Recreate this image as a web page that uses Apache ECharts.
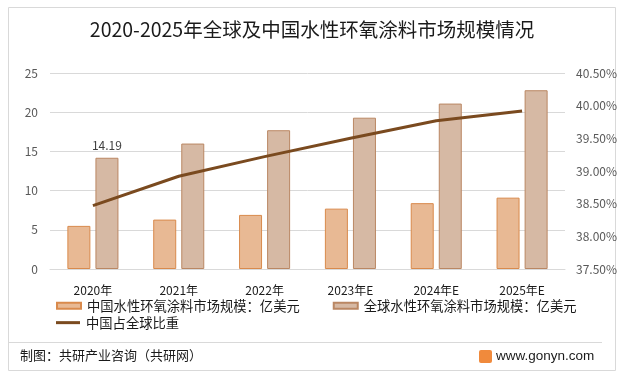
<!DOCTYPE html>
<html><head><meta charset="utf-8">
<script src="https://cdn.jsdelivr.net/npm/echarts@6/dist/echarts.min.js"></script>
<style>html,body{margin:0;padding:0;background:#fff}#c{width:624px;height:380px}</style>
</head><body><div id="c"></div>
<script>
const categories = ['2020年','2021年','2022年','2023年E','2024年E','2025年E'];
const chinaMarket = [5.5, 6.3, 6.9, 7.7, 8.4, 9.1];
const globalMarket = [14.19, 16.0, 17.7, 19.3, 21.1, 22.8];
const chinaShare = [38.47, 38.92, 39.22, 39.50, 39.77, 39.92];
const leftTicks = {min: 0, max: 25, interval: 5};
const rightTicks = {min: 37.5, max: 40.5, interval: 0.5};
const names = ['中国水性环氧涂料市场规模：亿美元','全球水性环氧涂料市场规模：亿美元','中国占全球比重'];

const font = '"Noto Sans CJK SC","Microsoft YaHei",sans-serif';
const chart = echarts.init(document.getElementById('c'));
chart.setOption({
  animation: false,
  textStyle: {fontFamily: font},
  title: {text: '2020-2025年全球及中国水性环氧涂料市场规模情况', left: 'center', top: 15,
    textStyle: {fontSize: 19.5, fontWeight: 'normal', color: '#1a1a1a', fontFamily: font}},
  grid: {left: 50, right: 59, top: 73, bottom: 111, containLabel: false},
  legend: [
    {data: [{name: names[0], icon: 'rect'}, {name: names[1], icon: 'rect'}], left: 51, top: 294,
      padding: 5, itemWidth: 24, itemHeight: 6, itemGap: 33,
      textStyle: {fontSize: 13.3, color: '#1a1a1a', padding: [0, 0, 0, 1]}},
    {data: [{name: names[2], icon: 'rect'}], left: 51, top: 311, padding: 5, itemWidth: 24, itemHeight: 3,
      textStyle: {fontSize: 13.3, color: '#1a1a1a', padding: [0, 0, 0, 1]}}
  ],
  xAxis: {type: 'category', data: categories,
    axisLine: {lineStyle: {color: '#d9d9d9'}}, axisTick: {show: false},
    axisLabel: {color: '#1a1a1a', fontSize: 12, margin: 15}},
  yAxis: [
    {type: 'value', min: leftTicks.min, max: leftTicks.max, interval: leftTicks.interval,
      axisLabel: {color: '#595959', fontSize: 12, margin: 12},
      splitLine: {lineStyle: {color: '#d9d9d9'}}, axisLine: {show: false}, axisTick: {show: false}},
    {type: 'value', min: rightTicks.min, max: rightTicks.max, interval: rightTicks.interval,
      axisLabel: {color: '#595959', fontSize: 12, margin: 11, formatter: v => v.toFixed(2) + '%'},
      splitLine: {show: false}, axisLine: {show: false}, axisTick: {show: false}}
  ],
  series: [
    {name: names[0], type: 'bar', data: chinaMarket, barWidth: 23, barGap: '22%',
      itemStyle: {color: '#E8B994', borderColor: '#D98A4C', borderWidth: 1}},
    {name: names[1], type: 'bar', data: globalMarket, barWidth: 23,
      itemStyle: {color: '#D6B9A4', borderColor: '#BA8763', borderWidth: 1},
      label: {show: true, position: 'top', color: '#404040', fontSize: 12, distance: 6,
        formatter: p => p.dataIndex === 0 ? p.value.toFixed(2) : ''}},
    {name: names[2], type: 'line', yAxisIndex: 1, data: chinaShare, symbol: 'none',
      lineStyle: {color: '#7A4A1F', width: 3}, itemStyle: {color: '#7A4A1F'}}
  ],
  graphic: [
    {type: 'rect', shape: {x: 8.5, y: 7.5, width: 607, height: 363}, style: {fill: 'none', stroke: '#d9d9d9', lineWidth: 1}, z: -1},
    {type: 'line', shape: {x1: 8, y1: 342.5, x2: 602, y2: 342.5}, style: {stroke: '#d9d9d9', lineWidth: 1}},
    {type: 'text', left: 20, top: 349, style: {text: '制图：共研产业咨询（共研网）', fontSize: 13, fill: '#1a1a1a', fontFamily: font}},
    {type: 'rect', shape: {x: 479, y: 350, width: 13, height: 13, r: 2}, style: {fill: '#F08A3C'}},
    {type: 'text', left: 496, top: 349, style: {text: 'www.gonyn.com', fontSize: 13.5, fill: '#1a1a1a', fontFamily: '"Liberation Sans",Arial,sans-serif'}}
  ]
});
</script></body></html>
